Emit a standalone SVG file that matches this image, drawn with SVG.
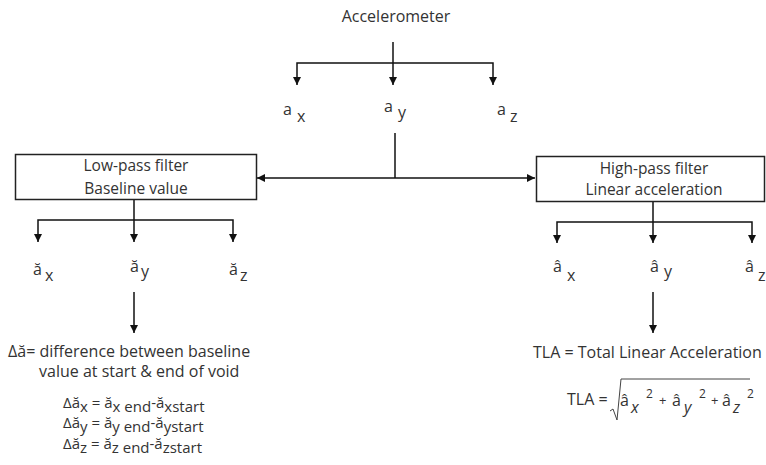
<svg xmlns="http://www.w3.org/2000/svg" width="766" height="465" viewBox="0 0 766 465">
<style>
text{font-family:"Open Sans","DejaVu Sans",sans-serif;fill:#333;font-size:16px}
.c{text-anchor:middle}
.b{font-size:15.5px}
.f{font-size:15px}
.p{font-size:13px}
.ln{fill:none;stroke:#111;stroke-width:1.5}
.ar{marker-end:url(#ah)}
</style>
<defs>
<marker id="ah" markerUnits="userSpaceOnUse" markerWidth="9" markerHeight="9" refX="8" refY="4" orient="auto">
<path d="M0,0 L8,4 L0,8 z" fill="#111"/>
</marker>
</defs>
<rect width="766" height="465" fill="#fff"/>
<g id="connectors">
<path class="ln ar" d="M393,42 V85"/>
<path class="ln ar" d="M393,63 H297 V85"/>
<path class="ln ar" d="M393,63 H493 V85"/>
<path class="ln" d="M395,133 V178"/>
<path class="ln ar" d="M395,178 H257"/>
<path class="ln ar" d="M395,178 H535"/>
<path class="ln ar" d="M134,199 V242"/>
<path class="ln ar" d="M134,220 H38 V242"/>
<path class="ln ar" d="M134,220 H233 V242"/>
<path class="ln ar" d="M134,292 V333"/>
<path class="ln ar" d="M653,201 V243"/>
<path class="ln ar" d="M653,222 H557 V243"/>
<path class="ln ar" d="M653,222 H752 V243"/>
<path class="ln ar" d="M653,292 V333"/>
</g>
<g id="accelerometer"><text class="c" x="396" y="22">Accelerometer</text></g>
<g id="ax"><text x="283" y="115">a<tspan x="297" y="122">x</tspan></text></g>
<g id="ay"><text x="384" y="112">a<tspan x="398" y="118">y</tspan></text></g>
<g id="az"><text x="497" y="115">a<tspan x="510" y="122">z</tspan></text></g>
<g id="lowpass">
<rect x="15.5" y="154.5" width="241" height="45" fill="#fff" stroke="#222" stroke-width="1.5"/>
<text class="c b" x="136" y="171">Low-pass filter</text>
<text class="c b" x="136" y="194">Baseline value</text>
</g>
<g id="highpass">
<rect x="536.5" y="156.5" width="228" height="45" fill="#fff" stroke="#222" stroke-width="1.5"/>
<text class="c b" x="654" y="174">High-pass filter</text>
<text class="c b" x="654" y="195">Linear acceleration</text>
</g>
<g id="bx"><text x="33" y="275">ă<tspan x="45" y="281">x</tspan></text></g>
<g id="by"><text x="130" y="272">ă<tspan x="141" y="277">y</tspan></text></g>
<g id="bz"><text x="229" y="275">ă<tspan x="240" y="281">z</tspan></text></g>
<g id="hx"><text x="553" y="272">â<tspan x="567" y="281">x</tspan></text></g>
<g id="hy"><text x="650" y="272">â<tspan x="664" y="277">y</tspan></text></g>
<g id="hz"><text x="745" y="272">â<tspan x="758" y="281">z</tspan></text></g>
<g id="baseline-diff">
<text x="8" y="357">Δă= difference between baseline</text>
<text x="39" y="377">value at start &amp; end of void</text>
<text class="f" x="63" y="408">Δă<tspan dy="4">x</tspan><tspan dy="-4"> = ă</tspan><tspan dy="4">x end</tspan><tspan dy="-4">-ă</tspan><tspan dy="4">xstart</tspan></text>
<text class="f" x="63" y="428">Δă<tspan dy="4">y</tspan><tspan dy="-4"> = ă</tspan><tspan dy="4">y end</tspan><tspan dy="-4">-ă</tspan><tspan dy="4">ystart</tspan></text>
<text class="f" x="63" y="449">Δă<tspan dy="4">z</tspan><tspan dy="-4"> = ă</tspan><tspan dy="4">z end</tspan><tspan dy="-4">-ă</tspan><tspan dy="4">zstart</tspan></text>
</g>
<g id="tla">
<text x="533" y="358">TLA = Total Linear Acceleration</text>
<text x="567" y="405">TLA =</text>
<path d="M610,411 L613,409 L617,420 L621,379 L750,379" fill="none" stroke="#444" stroke-width="1"/>
<text x="620" y="406">â<tspan x="631" y="413" font-style="italic">x</tspan><tspan x="646" y="398" font-size="12">2</tspan><tspan class="p" x="659" y="405">+</tspan><tspan x="672" y="406">â</tspan><tspan x="684" y="413" font-style="italic">y</tspan><tspan x="699" y="398" font-size="12">2</tspan><tspan class="p" x="711" y="405">+</tspan><tspan x="722" y="406">â</tspan><tspan x="733" y="413" font-style="italic">z</tspan><tspan x="747" y="398" font-size="12">2</tspan></text>
</g>
</svg>
